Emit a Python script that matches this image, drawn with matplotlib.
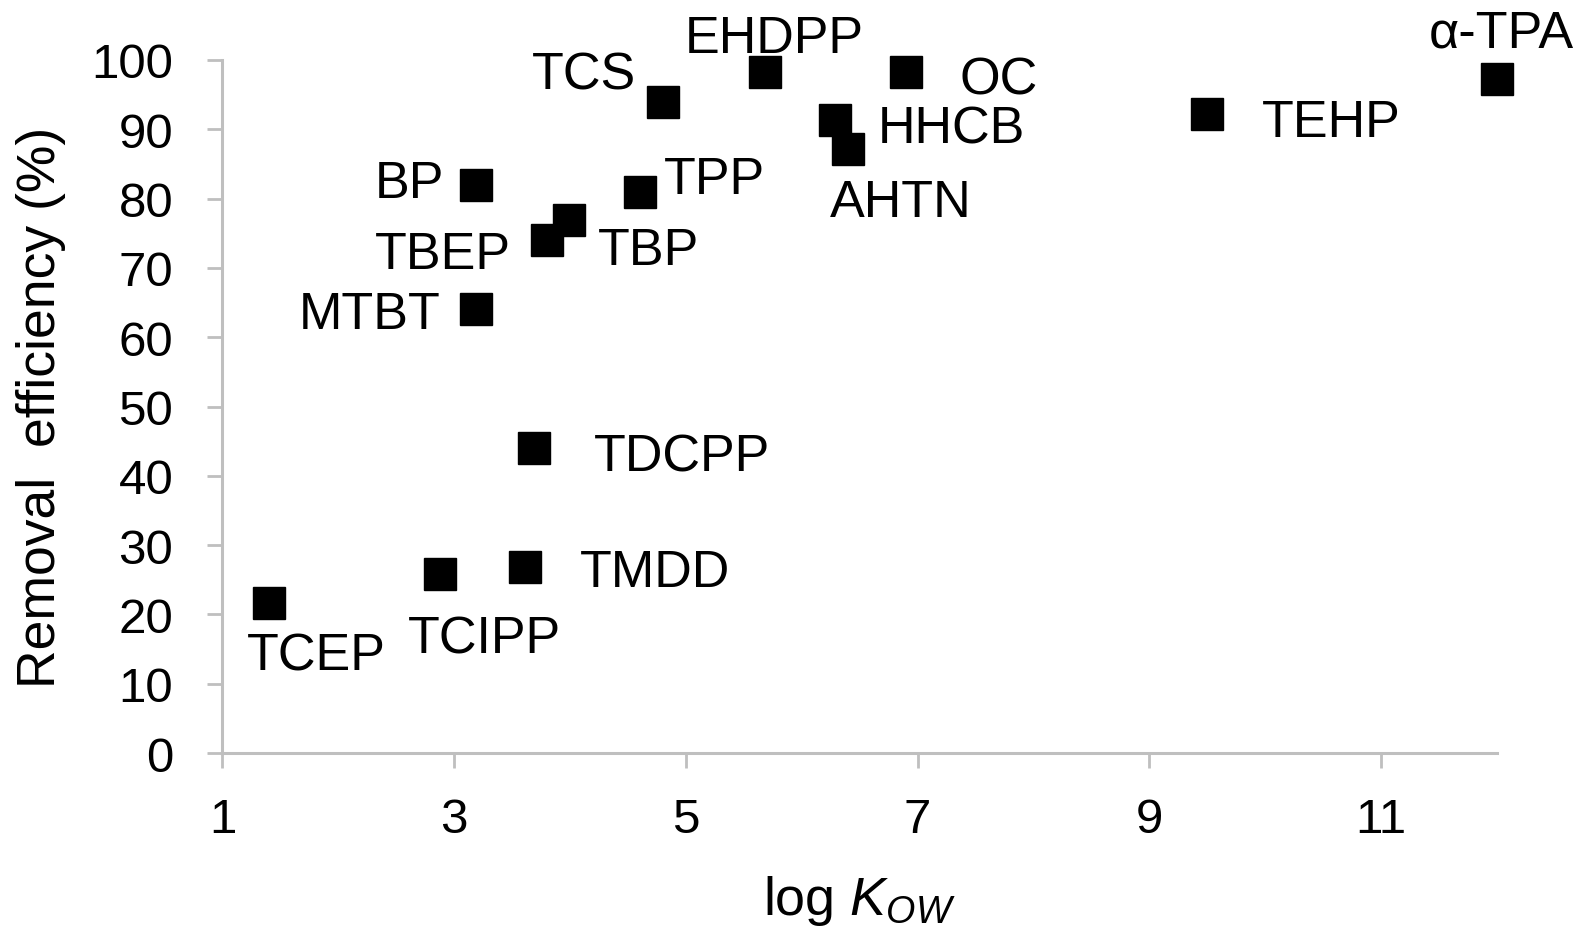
import matplotlib
matplotlib.use("Agg")
import matplotlib.pyplot as plt
from matplotlib import font_manager

plt.rcParams['font.family'] = ['Liberation Sans', 'DejaVu Sans']
plt.rcParams['mathtext.fontset'] = 'custom'
plt.rcParams['mathtext.rm'] = 'Liberation Sans'
plt.rcParams['mathtext.it'] = 'Liberation Sans:italic'

# ---- data ----
compounds = ["TCEP", "TCIPP", "TMDD", "TDCPP", "MTBT", "BP", "TBEP", "TBP",
             "TPP", "TCS", "EHDPP", "HHCB", "AHTN", "OC", "TEHP", "α-TPA"]
log_kow = [1.4, 2.88, 3.61, 3.69, 3.19, 3.19, 3.8, 3.99,
           4.6, 4.8, 5.68, 6.29, 6.4, 6.9, 9.5, 12.0]
removal = [21.7, 25.9, 26.8, 44.0, 64.0, 82.0, 74.0, 76.9,
           81.0, 94.0, 98.2, 91.3, 87.2, 98.2, 92.2, 97.3]
x_ticks = [1, 3, 5, 7, 9, 11]
y_ticks = list(range(0, 101, 10))

# label offsets in pixels (x: label centre right of marker; y: baseline below marker)
label_dx = [47.6, 43.9, 129.8, 148, -107, -67, -104.4, 79.4,
            75, -78.8, 10, 116, 53, 93, 123.5, 4.5]
label_dy = [66.7, 79.4, 18.4, 22, 18.5, 12.5, 27.5, 43.8,
            1, -13.5, -20.5, 22, 67, 21.5, 22, -32]

W, H, DPI = 1593, 929, 100
fig = plt.figure(figsize=(W / DPI, H / DPI), dpi=DPI)
ax = fig.add_axes([0.13967, 0.18837, 0.93974 - 0.13967, 0.93434 - 0.18837])

ax.plot(log_kow, removal, linestyle='none', marker='s', markersize=23,
        color='black', clip_on=False, zorder=3)

for name, x, y, dx, dy in zip(compounds, log_kow, removal, label_dx, label_dy):
    ax.annotate(name, (x, y), xytext=(dx, -dy), textcoords='offset pixels',
                ha='center', va='baseline', fontsize=37.5, color='black',
                annotation_clip=False)

ax.set_xlim(1, 12)
ax.set_ylim(0, 100)
ax.set_xticks(x_ticks)
ax.set_yticks(y_ticks)

gray = '#BFBFBF'
for s in ['top', 'right']:
    ax.spines[s].set_visible(False)
for s in ['left', 'bottom']:
    ax.spines[s].set_color(gray)
    ax.spines[s].set_linewidth(2.2)

narrow = None
try:
    font_manager.findfont(font_manager.FontProperties(family='Liberation Sans Narrow'),
                          fallback_to_default=False)
    narrow = 'Liberation Sans Narrow'
except Exception:
    narrow = None

ax.tick_params(axis='both', which='major', color=gray, width=2.0, length=10.5,
               direction='out', labelcolor='black')
ax.tick_params(axis='y', pad=25)
ax.tick_params(axis='x', pad=21)
for lab in ax.get_xticklabels() + ax.get_yticklabels():
    if narrow:
        lab.set_family([narrow, 'Liberation Sans'])
        lab.set_fontsize(40)
    else:
        lab.set_fontsize(35.5)

ax.set_ylabel("Removal  efficiency (%)", fontsize=38.5, va='center')
ax.yaxis.set_label_coords(-0.1424, 0.5)
ax.set_xlabel("log $K_{OW}$", fontsize=38.8, va='baseline')
ax.xaxis.set_label_coords(0.5, -0.2323)

fig.savefig("out.png", dpi=DPI)
